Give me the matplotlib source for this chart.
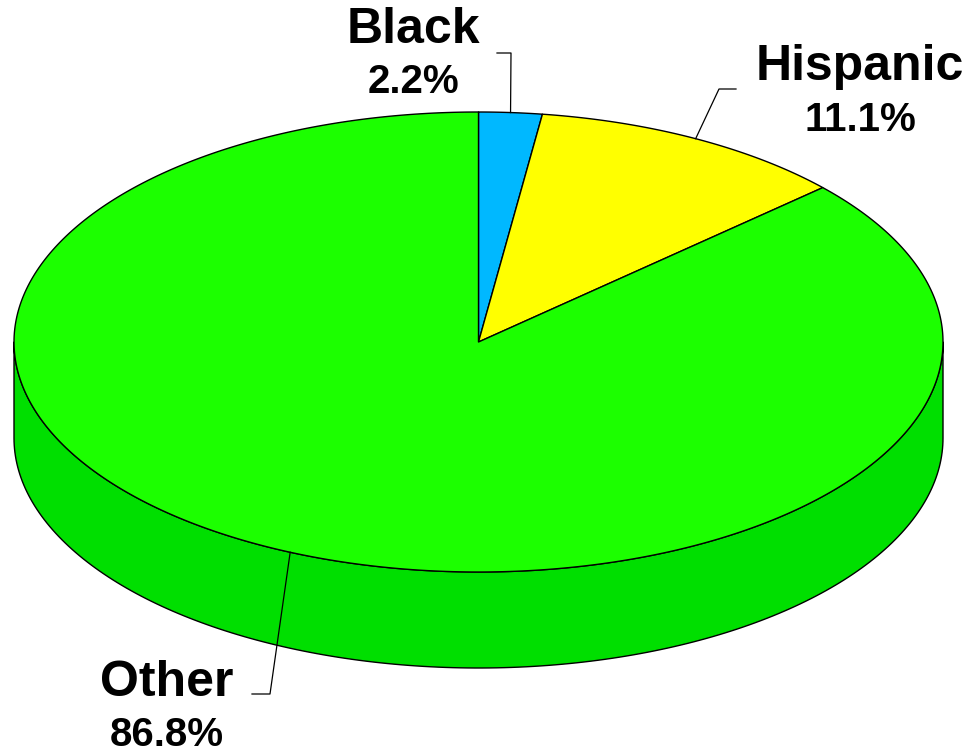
import numpy as np
import matplotlib
matplotlib.use("Agg")
import matplotlib.pyplot as plt
from matplotlib.patches import Polygon

labels = ["Black", "Hispanic", "Other"]
shares = [2.2, 11.1, 86.8]
top_colors = ["#00B8FF", "#FFFF00", "#1CFF00"]
side_colors = ["#0090CC", "#CCCC00", "#00DF00"]

# ellipse geometry in pixels
cx, cy = 478.5, 342
a, b = 464.5, 230
depth = 96

# label placement: (text x, name y, pct y, leader elbow, leader end)
label_pos = {
    "Black": (413, 30, 82, (511, 53), (497, 53)),
    "Hispanic": (860, 67, 120, (719, 89), (736, 89)),
    "Other": (167, 683, 735, (270, 694), (252, 694)),
}

plt.rcParams['font.family'] = ['Liberation Sans', 'DejaVu Sans']

fig = plt.figure(figsize=(9.72, 7.52), dpi=100)
ax = fig.add_axes([0, 0, 1, 1])
ax.set_xlim(0, 972)
ax.set_ylim(752, 0)
ax.axis("off")


def pt(t, dy=0):
    r = np.radians(t)
    return cx + a * np.sin(r), cy - b * np.cos(r) + dy


total = sum(shares)
bounds = np.concatenate([[0], np.cumsum(shares) / total * 360])

# side walls (only the front half, 90..270 degrees, is visible)
for i in range(len(shares)):
    t0, t1 = max(bounds[i], 90), min(bounds[i + 1], 270)
    if t1 <= t0:
        continue
    ts = np.linspace(t0, t1, 200)
    upper = [pt(t) for t in ts]
    lower = [pt(t, depth) for t in ts[::-1]]
    ax.add_patch(Polygon(upper + lower, closed=True, facecolor=side_colors[i],
                         edgecolor="black", lw=1, joinstyle="round"))

# top face wedges
for i in range(len(shares)):
    ts = np.linspace(bounds[i], bounds[i + 1], 400)
    verts = [(cx, cy)] + [pt(t) for t in ts]
    ax.add_patch(Polygon(verts, closed=True, facecolor=top_colors[i],
                         edgecolor="black", lw=1, joinstyle="round"))

# labels with leader lines
for i, name in enumerate(labels):
    tx, ny, py, elbow, end = label_pos[name]
    mid = (bounds[i] + bounds[i + 1]) / 2
    sx, sy = pt(mid)
    ax.plot([sx, elbow[0], end[0]], [sy, elbow[1], end[1]], color="black", lw=0.9)
    ax.text(tx, ny, name, ha="center", va="center", fontsize=36, fontweight="bold")
    ax.text(tx, py, f"{shares[i]:.1f}%", ha="center", va="center",
            fontsize=29, fontweight="bold")

fig.savefig("out.png", dpi=100)
